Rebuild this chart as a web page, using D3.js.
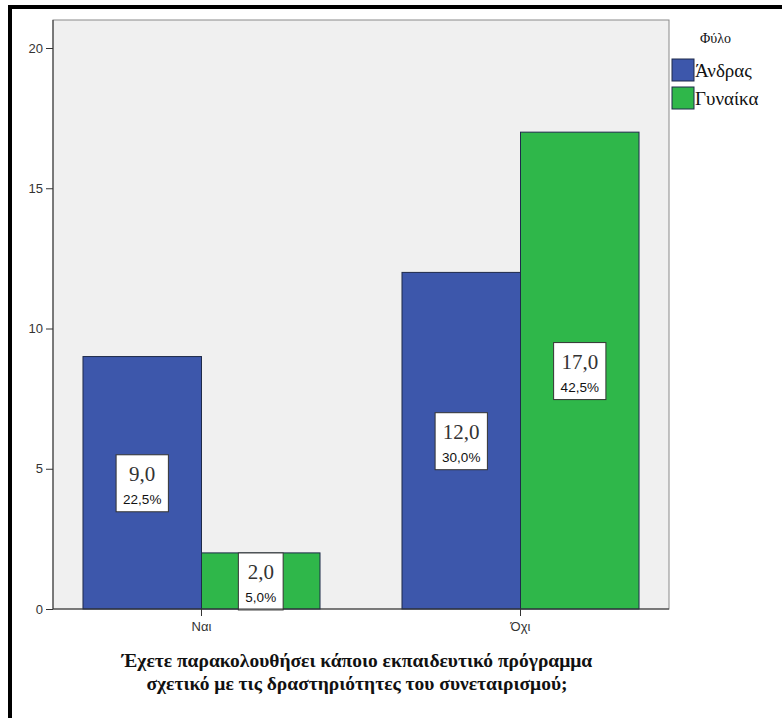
<!DOCTYPE html>
<html>
<head>
<meta charset="utf-8">
<script src="https://cdn.jsdelivr.net/npm/d3@7/dist/d3.min.js"></script>
<style>
  html, body { margin: 0; padding: 0; background: #fff; }
  svg { display: block; }
</style>
</head>
<body>
<script>
// ---- data ----
const categories = ["Ναι", "Όχι"];
const seriesNames = ["Άνδρας", "Γυναίκα"];
const andrasValues = [9, 12];
const gynaikaValues = [2, 17];
const andrasPercents = [22.5, 30.0];
const gynaikaPercents = [5.0, 42.5];
const yTicks = [0, 5, 10, 15, 20];
const legendTitle = "Φύλο";
const xTitleLines = ["Έχετε παρακολουθήσει κάποιο εκπαιδευτικό πρόγραμμα",
                     "σχετικό με τις δραστηριότητες του συνεταιρισμού;"];
const seriesColors = ["#3d57ab", "#2fb74a"];

const W = 782, H = 718;
const plot = { left: 53, right: 669, top: 20, bottom: 609 };
const SERIF = "'Liberation Serif', 'Times New Roman', serif";
const SANS = "'Liberation Sans', Arial, sans-serif";

const svg = d3.select("body").append("svg").attr("width", W).attr("height", H);

// outer frame (top + left black lines)
svg.append("rect").attr("x", 8).attr("y", 5).attr("width", W - 8).attr("height", 4).attr("fill", "#000");
svg.append("rect").attr("x", 8).attr("y", 5).attr("width", 4).attr("height", H - 5).attr("fill", "#000");

// scales
const y = d3.scaleLinear().domain([0, 20]).range([plot.bottom, 48]);
const x0 = d3.scaleBand().domain(categories).range([plot.left, plot.right])
  .paddingInner(0.257).paddingOuter(0.094);
const x1 = d3.scaleBand().domain(seriesNames).range([0, x0.bandwidth()]).padding(0);
const color = d3.scaleOrdinal().domain(seriesNames).range(seriesColors);

// plot background
svg.append("rect").attr("x", plot.left).attr("y", plot.top)
  .attr("width", plot.right - plot.left).attr("height", plot.bottom - plot.top)
  .attr("fill", "#f0f0f0").attr("stroke", "#8a8a8a").attr("stroke-width", 1);

const rows = categories.map((c, i) => ({
  cat: c,
  items: [
    { s: seriesNames[0], v: andrasValues[i], p: andrasPercents[i] },
    { s: seriesNames[1], v: gynaikaValues[i], p: gynaikaPercents[i] }
  ]
}));

const fmtNum = v => d3.format(".1f")(v).replace(".", ",");

const groups = svg.append("g").selectAll("g").data(rows).join("g")
  .attr("transform", d => `translate(${x0(d.cat)},0)`);

groups.selectAll("rect").data(d => d.items).join("rect")
  .attr("x", d => x1(d.s))
  .attr("y", d => y(d.v))
  .attr("width", x1.bandwidth())
  .attr("height", d => y(0) - y(d.v))
  .attr("fill", d => color(d.s))
  .attr("stroke", "#1f2a4a")
  .attr("stroke-width", 1);

// axes
const yAxis = d3.axisLeft(y).tickValues(yTicks).tickSize(7).tickPadding(3).tickFormat(d3.format("d"));
const gy = svg.append("g").attr("transform", `translate(${plot.left},0)`).call(yAxis);
gy.select(".domain").attr("stroke", "#333").attr("d", `M0,${plot.top}V${plot.bottom}`);
gy.selectAll(".tick line").attr("stroke", "#333");
gy.selectAll(".tick text").attr("font-family", SANS)
  .attr("font-size", 13).attr("fill", "#333");

const xAxis = d3.axisBottom(x0).tickSize(7).tickPadding(6);
const gx = svg.append("g").attr("transform", `translate(0,${plot.bottom})`).call(xAxis);
gx.select(".domain").attr("stroke", "#333").attr("d", `M${plot.left},0H${plot.right}`);
gx.selectAll(".tick line").attr("stroke", "#333");
gx.selectAll(".tick text").attr("font-family", SANS)
  .attr("font-size", 13).attr("fill", "#333");

// value labels
const labels = groups.selectAll("g.lab").data(d => d.items).join("g").attr("class", "lab")
  .attr("transform", d => `translate(${x1(d.s) + x1.bandwidth() / 2},${(y(d.v) + y(0)) / 2})`);
labels.each(function(d) {
  const g = d3.select(this);
  const box = g.append("rect");
  const t1 = g.append("text").attr("text-anchor", "middle").attr("y", -2)
    .attr("font-family", SERIF).attr("font-size", 21)
    .attr("fill", "#333").text(fmtNum(d.v));
  const t2 = g.append("text").attr("text-anchor", "middle").attr("y", 21)
    .attr("font-family", SANS).attr("font-size", 13.5)
    .attr("fill", "#111").text(fmtNum(d.p) + "%");
  const w = Math.max(t1.node().getBBox().width, t2.node().getBBox().width) + 14;
  box.attr("x", -w / 2).attr("y", -28).attr("width", w).attr("height", 57)
    .attr("fill", "#fff").attr("stroke", "#333").attr("stroke-width", 1);
});

// legend
const lg = svg.append("g");
lg.append("text").attr("x", 700).attr("y", 43)
  .attr("font-family", SERIF).attr("font-size", 14)
  .attr("fill", "#111").text(legendTitle);
const li = lg.selectAll("g.li").data(seriesNames).join("g").attr("class", "li")
  .attr("transform", (d, i) => `translate(672,${59 + i * 28})`);
li.append("rect").attr("width", 22).attr("height", 22)
  .attr("fill", d => color(d)).attr("stroke", "#1f2a4a").attr("stroke-width", 1);
li.append("text").attr("x", 23).attr("y", 18)
  .attr("font-family", SERIF).attr("font-size", 19)
  .attr("fill", "#111").text(d => d);

// x title
svg.append("text").attr("text-anchor", "middle")
  .attr("font-family", SERIF).attr("font-weight", "bold")
  .attr("font-size", 19.5).attr("fill", "#111")
  .selectAll("tspan").data(xTitleLines).join("tspan")
  .attr("x", 357).attr("y", (d, i) => 667 + i * 23).text(d => d);
</script>
</body>
</html>
